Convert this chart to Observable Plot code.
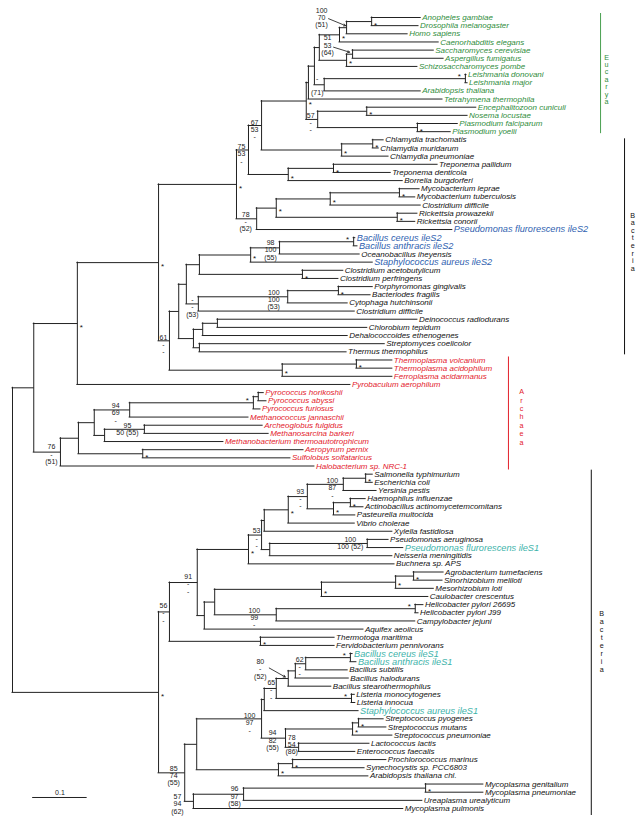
<!DOCTYPE html>
<html><head><meta charset="utf-8">
<script src="https://cdn.jsdelivr.net/npm/d3@7"></script>
<script src="https://cdn.jsdelivr.net/npm/@observablehq/plot@0.6"></script>
<style>body{margin:0;background:#fff} svg{display:block}</style>
</head><body><div id="chart"></div>
<script>
// ---------------- DATA ----------------
const leafNames = [
"Anopheles gambiae","Drosophila melanogaster","Homo sapiens","Caenorhabditis elegans","Saccharomyces cerevisiae","Aspergillus fumigatus","Schizosaccharomyces pombe","Leishmania donovani","Leishmania major","Arabidopsis thaliana","Tetrahymena thermophila","Encephalitozoon cuniculi","Nosema locustae","Plasmodium falciparum","Plasmodium yoelii",
"Chlamydia trachomatis","Chlamydia muridarum","Chlamydia pneumoniae","Treponema pallidum","Treponema denticola","Borrelia burgdorferi","Mycobacterium leprae","Mycobacterium tuberculosis","Clostridium difficile","Rickettsia prowazekii","Rickettsia conorii","Pseudomonas flurorescens ileS2","Bacillus cereus ileS2","Bacillus anthracis ileS2","Oceanobacillus iheyensis","Staphylococcus aureus ileS2","Clostridium acetobutylicum","Clostridium perfringens","Porphyromonas gingivalis","Bacteriodes fragilis","Cytophaga hutchinsonii","Clostridium difficile","Deinococcus radiodurans","Chlorobium tepidum","Dehalococcoides ethenogenes","Streptomyces coelicolor","Thermus thermophilus",
"Thermoplasma volcanium","Thermoplasma acidophilum","Ferroplasma acidarmanus","Pyrobaculum aerophilum","Pyrococcus horikoshii","Pyrococcus abyssi","Pyrococcus furiosus","Methanococcus jannaschii","Archeoglobus fulgidus","Methanosarcina barkeri","Methanobacterium thermoautotrophicum","Aeropyrum pernix","Sulfolobus solfataricus","Halobacterium sp. NRC-1",
"Salmonella typhimurium","Escherichia coli","Yersinia pestis","Haemophilus influenzae","Actinobacillus actinomycetemcomitans","Pasteurella multocida","Vibrio cholerae","Xylella fastidiosa","Pseudomonas aeruginosa","Pseudomonas flurorescens ileS1","Neisseria meningitidis","Buchnera sp. APS","Agrobacterium tumefaciens","Sinorhizobium meliloti","Mesorhizobium loti","Caulobacter crescentus","Helicobacter pylori 26695","Helicobacter pylori J99","Campylobacter jejuni","Aquifex aeolicus","Thermotoga maritima","Fervidobacterium pennivorans","Bacillus cereus ileS1","Bacillus anthracis ileS1","Bacillus subtilis","Bacillus halodurans","Bacillus stearothermophilus","Listeria monocytogenes","Listeria innocua","Staphylococcus aureus ileS1","Streptococcus pyogenes","Streptococcus mutans","Streptococcus pneumoniae","Lactococcus lactis","Enterococcus faecalis","Prochlorococcus marinus","Synechocystis sp. PCC6803","Arabidopsis thaliana chl.","Mycoplasma genitalium","Mycoplasma pneumoniae","Ureaplasma urealyticum","Mycoplasma pulmonis"];

const leafParents = ["AD","AD","An1","An2","Fu1","Fu1","Fu2","Le","Le","LA","C","Mi","Mi","Pl","Pl",
"Ch1","Ch1","Ch2","Tr1","Tr1","Tr2","My","My","MC","Ri","Ri","I","BS1","BS1","BS2","BS3","CA","CA","Bt1","Bt1","Bt2","Bt3","De1","De1","De2","ST","ST",
"Tp1","Tp1","Tp2","P","PyA","PyA","PyB","PM","W","W","V","AS","AS","R",
"E1","E1","E2","P1","P1","P2","E4","X1","Ps","Ps","PN","N53","Al1","Al1","Al2","Al3","He1","He1","He2","Z3","Tt","Tt","BC","BC","B5","B4","B3","Li","Li","B1","St1","St1","St2","LE","LE","Cy1","Cy1","Cy2","My1","My1","My2","My3"];

const leafDepths = [0.749,0.745,0.725,0.782,0.773,0.791,0.743,0.833,0.835,0.749,0.789,0.851,0.835,0.817,0.804,
0.681,0.672,0.690,0.780,0.694,0.716,0.747,0.739,0.749,0.743,0.739,0.807,0.629,0.633,0.637,0.661,0.607,0.598,0.661,0.657,0.615,0.628,0.743,0.651,0.615,0.683,0.613,
0.697,0.697,0.697,0.620,0.461,0.466,0.455,0.433,0.459,0.470,0.387,0.534,0.510,0.554,
0.661,0.661,0.668,0.648,0.644,0.629,0.628,0.697,0.690,0.717,0.697,0.701,0.791,0.789,0.773,0.763,0.754,0.745,0.739,0.644,0.591,0.591,0.624,0.631,0.615,0.617,0.585,0.628,0.629,0.635,0.681,0.686,0.697,0.655,0.629,0.686,0.646,0.653,0.864,0.864,0.752,0.717];

const nodeIds = ["root","Q","P","O","H","G","F","D","C","B","A","An2","An1","AD","Fu2","Fu1","LA","Le","E","Mi","Pl","Ch2","Ch1","Tr2","Tr1","I","J","MC","My","Ri","N","M","L","K","BS3","BS2","BS1","CA","Bt3","Bt2","Bt1","DC","De2","De1","ST","Tp2","Tp1","R","Y","X","PM","PyB","PyA","V","W","AS","S","Z1","Z2","N53","X2","X1","E4","E3","E2","E1","P2","P1","PN","Ps","Z3","Z4","Al3","Al2","Al1","He2","He1","Tt","N85","V1","F1","B1","B2","B3","B4","B5","BC","Li","L3","St2","St1","LE","Cy2","Cy1","My3","My2","My1"];
const nodeParents = [null,"root","Q","P","O","H","G","F","D","C","B","A","An2","An1","A","Fu2","B","LA","D","E","E","F","Ch2","G","Tr2","H","I","J","MC","J","O","N","M","L","K","BS3","BS2","K","L","Bt3","Bt2","M","DC","De2","DC","N","Tp2","Q","R","Y","X","PM","PyB","X","V","Y","root","S","Z1","Z2","N53","X2","X1","E4","E3","E2","E3","P2","X2","PN","Z2","Z3","Z4","Al3","Al2","Z4","He2","Z1","S","N85","V1","F1","B1","B2","B3","B4","B5","B2","F1","L3","St2","L3","V1","Cy2","N85","My3","My2"];
const nodeDepths = [0,0.039,0.119,0.268,0.411,0.433,0.457,0.539,0.543,0.554,0.563,0.600,0.613,0.659,0.613,0.624,0.572,0.831,0.560,0.650,0.743,0.604,0.661,0.506,0.589,0.448,0.484,0.583,0.710,0.706,0.288,0.305,0.319,0.343,0.437,0.490,0.626,0.532,0.341,0.505,0.598,0.332,0.349,0.376,0.343,0.495,0.631,0.088,0.121,0.150,0.215,0.442,0.451,0.169,0.242,0.239,0.268,0.288,0.339,0.433,0.457,0.462,0.506,0.541,0.607,0.648,0.589,0.620,0.472,0.651,0.352,0.371,0.567,0.703,0.736,0.484,0.739,0.455,0.316,0.338,0.457,0.462,0.484,0.506,0.519,0.538,0.620,0.622,0.501,0.624,0.635,0.525,0.488,0.514,0.332,0.424,0.758];

const starNodes = ["AD","An2","Fu2","D","Mi","Pl","Ch2","Ch1","H","Tr2","Tr1","My","MC","J","Ri","BS3","CA","Bt1","O","Tp2","Tp1","P","AS","E1","P1","P2","E4","N53","Al1","Al2","Al3","Tt","S","St1","St2","Cy1","Cy2","My1"];
const starLeftNodes = ["Le","BS1","PyB","He1","BC","Li"];

const supportNodes = ["F","G","I","BS2","Bt2","Bt3","N","PM","W","R","LA","E","E2","E3","X2","Ps","Z2","Z1","He2","B5","B2","F1","L3","LE","N85","My2","My3","An1","Fu1","B3"];
const supportTexts = ["67|53|-","75|53|-","78|-|(52)","98|100|(55)","100|100|(53)","-|-|(53)","61|-|-","94|69|-","95|50 (55)","76|-|(51)","-||(71)","57|-|-","100|87|-","93|-|-","53|-|-","100|100 (52)","91|-|-","56|-|-","100|99|-","62|-|-","65|-|-","100|97|-","94|82|(55)","78|54|(86)","85|74|(55)","96|97|(58)","57|94|(62)","100|70|(51)","51|53|(64)","80|-|(52)"];

const groupNames = ["Eucarya","Bacteria","Archaea","Bacteria"];
const groupFirst = [0,15,42,56];
const groupLast = [14,41,55,97];

const scaleBarValue = 0.1;
const scaleBarLabel = "0.1";

// ---------------- LAYOUT / STYLE ----------------
const kx = 545;                 // px per tree unit
const rowPx = (808 - 17) / 97;  // px per leaf row
const colors = {euk:"#2f8d3c", bac:"#111", arc:"#e3202b", ileS1:"#3db3aa", ileS2:"#2f5fb0", line:"#222"};
const groupTextColors = [colors.euk, colors.bac, colors.arc, colors.bac];
const groupLineColors = ["#4aa050", "#111", "#e3202b", "#111"];
const bracketX = [1.079, 1.123, 0.910, 1.062];
const letterX = [1.090, 1.138, 0.934, 1.081];
const letterGap = [7.4, 7.6, 8.4, 8];
const letterDy = [5, -4, 4, 0];
const bracketExt = [[-4,2],[-1,3],[-3,4],[-4,7]];
const supportOffsets = [[-7,-3],[-7,-3],[-11,-4],[-9,-5],[-14,-4],[-6,-4],[-6,-3.5],[-14,-4],[-17,-4],[-9,-5],[-7,-6],[-7,-4],[-11,-3.5],[-7,-5],[-5,-4],[-17,-3.5],[-9,-5.5],[-6,-6],[-22,-4],[-6,-4],[-5,-5.5],[-12,-3],[-13,-5],[-7,-10],[-11,-4],[-9,-5],[-16,-4.5],[-25,-17],[-25,-16],[-28,-16.5]];
const calloutArrows = [["An1",[-18,-9],[-1,-2]],["Fu1",[-19,-7],[-3,-2]],["B3",[-19,-10.5],[-3,-1.5]]];
const lineGap = 7.2;
const scaleBarPos = {x: 0.037, row: 95.65, labelRow: 95.05};

// ---------------- BUILD TREE ----------------
const nodeMap = new Map();
nodeIds.forEach((id, i) => nodeMap.set(id, {id, parent: nodeParents[i], depth: nodeDepths[i], children: [], leaf: false}));
const leaves = leafNames.map((name, i) => ({id: "leaf#" + i, name, parent: leafParents[i], depth: leafDepths[i], y: i, leaf: true, children: []}));
leaves.forEach(l => nodeMap.set(l.id, l));
for (const n of nodeMap.values()) if (n.parent) nodeMap.get(n.parent).children.push(n);
(function place(n) {
  if (n.leaf) return n.y;
  const ys = n.children.map(place);
  n.ymin = Math.min(...ys); n.ymax = Math.max(...ys); n.y = (n.ymin + n.ymax) / 2;
  return n.y;
})(nodeMap.get("root"));
const all = [...nodeMap.values()];
const hsegs = all.filter(n => n.parent).map(n => ({x1: nodeMap.get(n.parent).depth, x2: n.depth, y: n.y}));
const vsegs = all.filter(n => !n.leaf).map(n => ({x: n.depth, y1: n.ymin, y2: n.ymax}));

function leafColor(l) {
  if (l.name.includes("ileS1")) return colors.ileS1;
  if (l.name.includes("ileS2")) return colors.ileS2;
  const g = groupFirst.findIndex((f, k) => l.y >= f && l.y <= groupLast[k]);
  return groupTextColors[g];
}
leaves.forEach(l => { l.color = leafColor(l); l.big = /ileS/.test(l.name); });

const stars = starNodes.map(id => { const n = nodeMap.get(id); return {x: n.depth + 4 / kx, y: n.y + 3.6 / rowPx}; })
  .concat(starLeftNodes.map(id => { const n = nodeMap.get(id); return {x: n.depth - 6 / kx, y: n.y - 2.4 / rowPx}; }));

const supportRows = [];
supportNodes.forEach((id, i) => {
  const n = nodeMap.get(id);
  const [dx, dy] = supportOffsets[i];
  supportTexts[i].split("|").forEach((t, k) => {
    if (t) supportRows.push({x: n.depth + dx / kx, y: n.y + (dy + k * lineGap) / rowPx, text: t});
  });
});
const arrows = calloutArrows.map(([id, a, b]) => {
  const n = nodeMap.get(id);
  return {x1: n.depth + a[0] / kx, y1: n.y + a[1] / rowPx, x2: n.depth + b[0] / kx, y2: n.y + b[1] / rowPx};
});

const brackets = groupNames.map((name, i) => ({
  x: bracketX[i], y1: groupFirst[i] + bracketExt[i][0] / rowPx, y2: groupLast[i] + bracketExt[i][1] / rowPx, color: groupLineColors[i]
}));

const letterRows = [];
groupNames.forEach((name, i) => {
  const chars = name.split("");
  const mid = (groupFirst[i] + groupLast[i]) / 2 + letterDy[i] / rowPx;
  chars.forEach((c, k) => letterRows.push({
    x: letterX[i], y: mid + ((k - (chars.length - 1) / 2) * letterGap[i]) / rowPx, text: c, color: groupTextColors[i]
  }));
});

const plot = Plot.plot({
  width: 642, height: 823,
  x: {domain: [0, 1.155], range: [12, 12 + 1.155 * kx], axis: null},
  y: {domain: [0, 97], range: [17, 808], axis: null},
  color: {type: "identity"},
  style: {fontFamily: "'Liberation Sans', Arial, Helvetica, sans-serif", fontSize: "8px", background: "#fff"},
  marks: [
    Plot.ruleY(hsegs, {y: "y", x1: "x1", x2: "x2", stroke: colors.line, strokeWidth: 1, strokeLinecap: "square"}),
    Plot.ruleX(vsegs, {x: "x", y1: "y1", y2: "y2", stroke: colors.line, strokeWidth: 1, strokeLinecap: "square"}),
    Plot.text(leaves.filter(l => !l.big), {x: "depth", y: "y", text: "name", fill: "color", dx: 1.5, textAnchor: "start", lineAnchor: "middle", fontSize: 8, fontStyle: "italic"}),
    Plot.text(leaves.filter(l => l.big), {x: "depth", y: "y", text: "name", fill: "color", dx: 1.5, textAnchor: "start", lineAnchor: "middle", fontSize: 9.2, fontStyle: "italic"}),
    Plot.text(stars, {x: "x", y: "y", text: () => "*", textAnchor: "middle", lineAnchor: "middle", fontSize: 8, fill: "#111"}),
    Plot.text(supportRows, {x: "x", y: "y", text: "text", textAnchor: "middle", lineAnchor: "middle", fontSize: 7, fill: "#222"}),
    Plot.arrow(arrows, {x1: "x1", y1: "y1", x2: "x2", y2: "y2", stroke: "#111", strokeWidth: 0.8, headLength: 4}),
    Plot.ruleX(brackets, {x: "x", y1: "y1", y2: "y2", stroke: "color", strokeWidth: 1}),
    Plot.text(letterRows, {x: "x", y: "y", text: "text", fill: "color", textAnchor: "middle", lineAnchor: "middle", fontSize: 7.2}),
    Plot.ruleY([{x1: scaleBarPos.x, x2: scaleBarPos.x + scaleBarValue, y: scaleBarPos.row}], {x1: "x1", x2: "x2", y: "y", stroke: "#222", strokeWidth: 1}),
    Plot.text([{x: scaleBarPos.x + scaleBarValue / 2, y: scaleBarPos.labelRow, text: scaleBarLabel}], {x: "x", y: "y", text: "text", textAnchor: "middle", lineAnchor: "middle", fontSize: 7, fill: "#222"})
  ]
});
document.getElementById("chart").append(plot);
</script>
</body></html>
